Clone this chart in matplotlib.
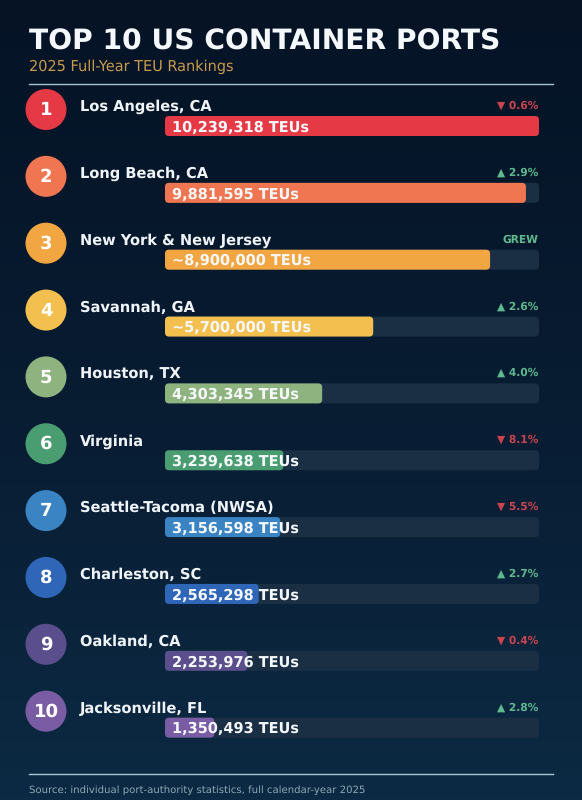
import numpy as np
import matplotlib
matplotlib.use("Agg")
import matplotlib.pyplot as plt
from matplotlib.patches import FancyBboxPatch, Circle
from matplotlib.colors import LinearSegmentedColormap

plt.rcParams["text.hinting"] = "no_hinting"
plt.rcParams["text.hinting_factor"] = 8

ports = ["Los Angeles, CA", "Long Beach, CA", "New York & New Jersey", "Savannah, GA", "Houston, TX",
         "Virginia", "Seattle-Tacoma (NWSA)", "Charleston, SC", "Oakland, CA", "Jacksonville, FL"]
teus = [10239318, 9881595, 8900000, 5700000, 4303345, 3239638, 3156598, 2565298, 2253976, 1350493]
teu_labels = ["10,239,318 TEUs", "9,881,595 TEUs", "~8,900,000 TEUs", "~5,700,000 TEUs", "4,303,345 TEUs",
              "3,239,638 TEUs", "3,156,598 TEUs", "2,565,298 TEUs", "2,253,976 TEUs", "1,350,493 TEUs"]
changes = ["▼ 0.6%", "▲ 2.9%", "GREW", "▲ 2.6%", "▲ 4.0%", "▼ 8.1%", "▼ 5.5%", "▲ 2.7%", "▼ 0.4%", "▲ 2.8%"]
colors = ["#e63946", "#ef7650", "#f2a641", "#f3c04f", "#8fb37e", "#4a9d70", "#3b84c4", "#2f66b8", "#5a4f8c", "#7a5ca5"]

W, H = 582, 800
ROW0, STEP = 109.5, 66.85
BAR_L, BAR_W, BAR_H = 165, 374, 20

fig = plt.figure(figsize=(W / 100, H / 100), dpi=100)

bg = fig.add_axes([0, 0, 1, 1], zorder=0)
bg.axis("off")
cmap = LinearSegmentedColormap.from_list("bg", ["#051325", "#081c32", "#0c2a43"])
bg.imshow(np.linspace(0, 1, 256)[:, None], aspect="auto", cmap=cmap, extent=(0, 1, 0, 1))

# Bars: x axis in TEUs, y axis in row units
k = max(teus) / BAR_W
ax = fig.add_axes([0, 0, 1, 1], zorder=1)
ax.patch.set_alpha(0)
ax.axis("off")
ax.set_xlim(-BAR_L * k, (W - BAR_L) * k)
bar_off = 16.5
ax.set_ylim((H - ROW0 - bar_off) / STEP, (0 - ROW0 - bar_off) / STEP)
asp = (1 / STEP) / k
h = BAR_H / STEP
for i, (v, c) in enumerate(zip(teus, colors)):
    for width, col in ((max(teus), "#1a2e44"), (v, c)):
        ax.add_patch(FancyBboxPatch((0, i - h / 2), width, h, boxstyle=f"round,pad=0,rounding_size={4 * k}",
                                    mutation_aspect=asp, fc=col, ec="none", zorder=2))

# Text and badges in pixel space
px = fig.add_axes([0, 0, 1, 1], zorder=2)
px.patch.set_alpha(0)
px.axis("off")
px.set_xlim(0, W)
px.set_ylim(H, 0)

px.text(29, 42, "TOP 10 US CONTAINER PORTS", color="#f4f8fb", fontsize=20.25, fontweight="bold", va="center", ha="left")
px.text(29, 66.5, "2025 Full-Year TEU Rankings", color="#c99a4b", fontsize=10.45, va="center", ha="left")
px.plot([29, 553], [84, 84], color="#a8c0cc", lw=1)
px.plot([29, 553], [774, 774], color="#a8c8d8", lw=1)
px.text(29, 790, "Source: individual port-authority statistics, full calendar-year 2025", color="#8fa8b8", fontsize=7.25, va="center", ha="left")

for i in range(len(ports)):
    y = ROW0 + i * STEP
    px.add_patch(Circle((46, y), 20.5, fc=colors[i], ec="none"))
    px.text(46, y + 0.5, str(i + 1), color="white", fontsize=13, fontweight="bold", ha="center", va="center")
    px.text(80, y - 2.5, ports[i], color="#f0f4f8", fontsize=10.5, fontweight="bold", ha="left", va="center")
    px.text(172, y + 18, teu_labels[i], color="#f4f8fb", fontsize=10.45, fontweight="bold", ha="left", va="center")
    ch = changes[i]
    col = "#c9444f" if ch.startswith("▼") else "#5fb98e"
    px.text(538, y - 3.8, ch, color=col, fontsize=7.65, fontweight="bold", ha="right", va="center")

fig.savefig("out.png", dpi=100)
